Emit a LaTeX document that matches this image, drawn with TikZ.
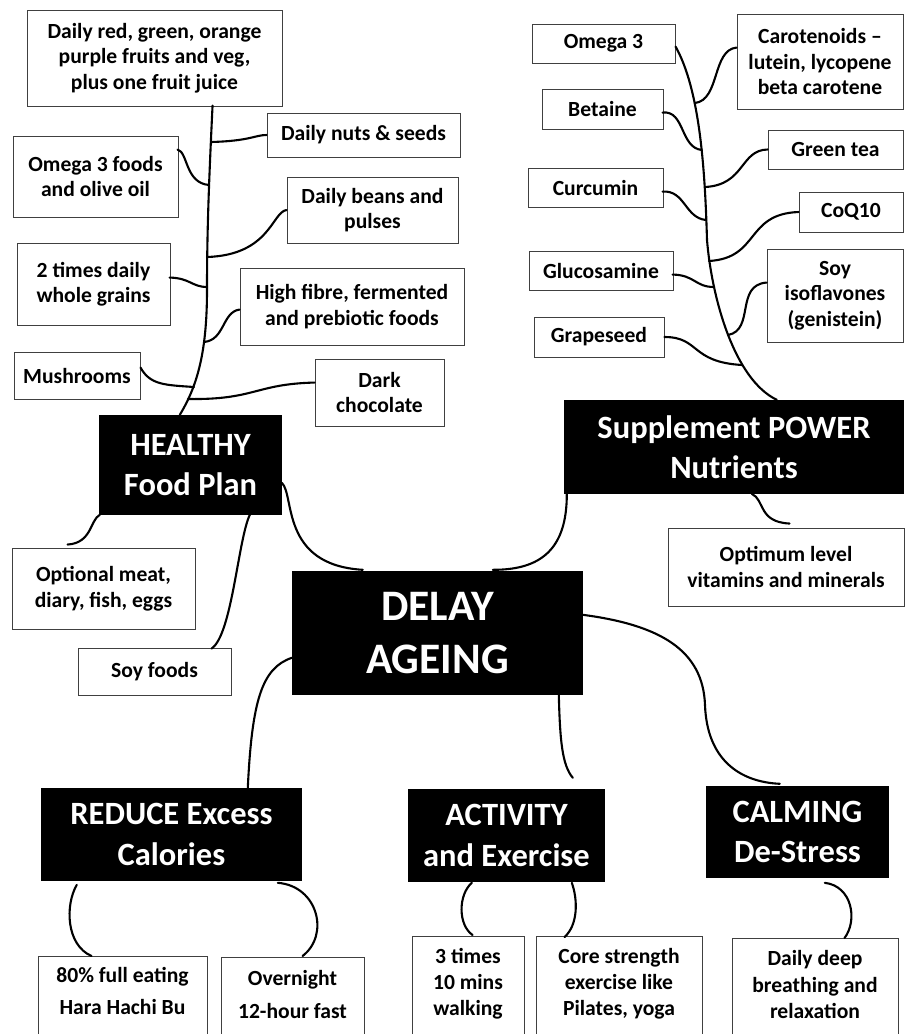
\documentclass[tikz,border=0pt]{standalone}
\usepackage{fontspec}
\setmainfont{Carlito}
\usetikzlibrary{calc}
\tikzset{
  sbox/.style={draw=black!75, line width=0.9pt, fill=white, align=center,
    font=\bfseries\fontsize{21.6}{25.5}\selectfont, inner sep=1pt},
  hbox/.style={fill=black, text=white, align=center,
    font=\bfseries\fontsize{32.5}{40.5}\selectfont, inner sep=0pt},
  dbox/.style={fill=black, text=white, align=center,
    font=\bfseries\fontsize{43.5}{53}\selectfont, inner sep=0pt},
  lowbox/.style={sbox, anchor=north, text depth=90pt, inner xsep=1pt},
  conn/.style={line width=2.1pt, black, line cap=round},
}
\newcommand\mkbox[7]{\node[#1, minimum width={#5pt-#3pt}, minimum height={#6pt-#4pt}] (#2) at ({(#3+#5)/2},{(#4+#6)/2}) {#7};}
\begin{document}
\begin{tikzpicture}[x=1pt,y=-1pt]
\useasboundingbox (0,0) rectangle (905,1034);
\fill[white] (0,0) rectangle (905,1034);
\clip (0,0) rectangle (905,1034);

% ---------- left food branch ----------
\mkbox{sbox}{red}{27}{10}{282}{106}{Daily red, green, orange\\purple fruits and veg,\\plus one fruit juice}
\mkbox{sbox}{nuts}{267}{113}{460}{157}{Daily nuts \& seeds}
\mkbox{sbox}{omf}{13}{136}{178}{217}{Omega 3 foods\\and olive oil}
\mkbox{sbox}{beans}{287}{177}{458}{243}{Daily beans and\\pulses}
\mkbox{sbox}{grains}{17}{243}{170}{325}{2 times daily\\whole grains}
\mkbox{sbox}{fibre}{240}{268}{464}{345}{High fibre, fermented\\and prebiotic foods}
\mkbox{sbox}{mush}{14}{352}{140}{399}{Mushrooms}
\mkbox{sbox}{choc}{315}{359}{444}{426}{Dark\\chocolate}
\mkbox{hbox}{healthy}{99}{415}{282}{515}{HEALTHY\\Food Plan}
\mkbox{sbox}{meat}{12}{548}{195}{629}{Optional meat,\\diary, fish, eggs}
\mkbox{sbox}{soyf}{78}{648}{231}{695}{Soy foods}

% ---------- centre ----------
\mkbox{dbox}{delay}{292}{571}{583}{695}{DELAY\\AGEING}

% ---------- supplements ----------
\mkbox{hbox}{supp}{564}{400}{904}{494}{Supplement POWER\\Nutrients}
\mkbox{sbox}{optim}{668}{528}{904}{606}{Optimum level\\vitamins and minerals}
\mkbox{sbox}{om3}{532}{24}{675}{63}{Omega 3}
\mkbox{sbox}{carot}{737}{14}{903}{109}{Carotenoids --\\lutein, lycopene\\beta carotene}
\mkbox{sbox}{bet}{542}{89}{663}{129}{Betaine}
\mkbox{sbox}{gtea}{768}{130}{903}{169}{Green tea}
\mkbox{sbox}{curc}{528}{168}{663}{207}{Curcumin}
\mkbox{sbox}{coq}{799}{192}{903}{232}{CoQ10}
\mkbox{sbox}{gluc}{529}{251}{673}{290}{Glucosamine}
\mkbox{sbox}{soyi}{767}{249}{903}{342}{Soy\\isoflavones\\(genistein)}
\mkbox{sbox}{grape}{534}{317}{664}{357}{Grapeseed}

% ---------- bottom ----------
\mkbox{hbox}{reduce}{41}{788}{302}{881}{REDUCE Excess\\Calories}
\mkbox{hbox}{act}{408}{789}{605}{882}{ACTIVITY\\and Exercise}
\mkbox{hbox}{calm}{706}{786}{889}{878}{CALMING\\De-Stress}

\node[lowbox, minimum width=169pt, inner ysep=11pt, font=\bfseries\fontsize{21.6}{32}\selectfont] (eat) at (122.5,956) {80\% full eating\\Hara Hachi Bu};
\node[lowbox, minimum width=143pt, inner ysep=13pt, font=\bfseries\fontsize{21.6}{33}\selectfont] (over) at (292.5,957) {Overnight\\12-hour fast};
\node[lowbox, minimum width=112pt, inner ysep=12pt, font=\bfseries\fontsize{21.6}{26}\selectfont] (walk) at (468,936) {3 times\\10 mins\\walking};
\node[lowbox, minimum width=166pt, inner ysep=12pt, font=\bfseries\fontsize{21.6}{26}\selectfont] (core) at (619,936) {Core strength\\exercise like\\Pilates, yoga};
\node[lowbox, minimum width=166pt, inner ysep=12pt, font=\bfseries\fontsize{21.6}{26.5}\selectfont] (breathe) at (815,938) {Daily deep\\breathing and\\relaxation};

% ---------- trunk junctions ----------
\coordinate (Jnuts) at (211,142);
\coordinate (Jom) at (209,185);
\coordinate (Jbeans) at (207,257);
\coordinate (Jgrains) at (207,287);
\coordinate (Jfibre) at (204,342);
\coordinate (Jmush) at (194,387);
\coordinate (Jchoc) at (188,399);
\coordinate (Jcarot) at (695,103);
\coordinate (Jbet) at (702,150);
\coordinate (Jgtea) at (705,187);
\coordinate (Jcurc) at (706,220);
\coordinate (Jcoq) at (709,261);
\coordinate (Jgluc) at (714,287);
\coordinate (Jsoy) at (728,335);
\coordinate (Jgrape) at (742,365);

% ---------- left trunk and branches ----------
\draw[conn] ($(red.north west)+(186,96)$) .. controls (209,180) and (207,230) .. (207,290)
  .. controls (207,350) and (198,385) .. ($(healthy.north west)+(81,0)$);
\draw[conn] (Jnuts) .. controls (250,141) and (255,135) .. (nuts.west);
\draw[conn] ($(omf.north west)+(165,14)$) .. controls (188,152) and (185,183) .. (Jom);
\draw[conn] (Jbeans) .. controls (270,255) and (272,212) .. (beans.west);
\draw[conn] ($(grains.north west)+(153,35)$) .. controls (190,278) and (192,287) .. (Jgrains);
\draw[conn] (Jfibre) .. controls (225,340) and (222,312) .. ($(fibre.north west)+(0,42)$);
\draw[conn] ($(mush.north west)+(127,16)$) .. controls (150,385) and (165,385) .. (Jmush);
\draw[conn] (Jchoc) .. controls (255,400) and (255,384) .. ($(choc.north west)+(0,24)$);
\draw[conn] ($(healthy.north west)+(1,100)$) .. controls (90,520) and (92,543) .. ($(meat.north west)+(56,-3)$);
\draw[conn] ($(healthy.north west)+(151,100)$) .. controls (238,540) and (232,635) .. ($(soyf.north west)+(134,1)$);
\draw[conn] ($(healthy.north west)+(183,68)$) .. controls (295,495) and (280,565) .. ($(delay.north west)+(71,-1)$);

% ---------- right trunk and branches ----------
\draw[conn] ($(om3.north west)+(144,23)$) .. controls (700,90) and (705,170) .. (707,240)
  .. controls (712,300) and (735,380) .. ($(supp.north west)+(213,0)$);
\draw[conn] (Jcarot) .. controls (720,100) and (712,50) .. ($(carot.north west)+(0,34)$);
\draw[conn] ($(bet.north west)+(121,24)$) .. controls (685,110) and (680,148) .. (Jbet);
\draw[conn] (Jgtea) .. controls (745,185) and (740,150) .. (gtea.west);
\draw[conn] ($(curc.north west)+(135,24)$) .. controls (685,190) and (685,218) .. (Jcurc);
\draw[conn] (Jcoq) .. controls (760,258) and (745,214) .. (coq.west);
\draw[conn] ($(gluc.north west)+(144,24)$) .. controls (695,275) and (695,287) .. (Jgluc);
\draw[conn] (Jsoy) .. controls (755,330) and (735,285) .. ($(soyi.north west)+(0,34)$);
\draw[conn] (grape.east) .. controls (700,337) and (690,362) .. (Jgrape);
\draw[conn] ($(supp.north west)+(3,94)$) .. controls (567,550) and (540,570) .. ($(delay.north west)+(201,-1)$);
\draw[conn] ($(supp.north west)+(188,94)$) .. controls (765,500) and (758,522) .. ($(optim.north west)+(122,-4)$);

% ---------- centre to bottom ----------
\draw[conn] ($(delay.north west)+(0,87)$) .. controls (262,668) and (252,700) .. ($(reduce.north west)+(207,0)$);
\draw[conn] ($(delay.north west)+(267,124)$) .. controls (560,740) and (562,765) .. ($(act.north west)+(165,-11)$);
\draw[conn] ($(delay.north west)+(291,44)$) .. controls (660,625) and (703,650) .. (705,705)
  .. controls (707,760) and (740,782) .. ($(calm.north west)+(74,-2)$);
\draw[conn] ($(reduce.north west)+(36,97)$) .. controls (65,905) and (66,945) .. ($(eat.north west)+(54,0)$);
\draw[conn] ($(reduce.north west)+(237,95)$) .. controls (318,886) and (330,935) .. ($(over.north west)+(82,-1)$);
\draw[conn] ($(act.north west)+(64,94)$) .. controls (458,895) and (458,925) .. ($(walk.north west)+(61,-1)$);
\draw[conn] ($(act.north west)+(164,94)$) .. controls (578,900) and (578,925) .. ($(core.north west)+(29,1)$);
\draw[conn] ($(calm.north west)+(119,97)$) .. controls (852,886) and (858,920) .. ($(breathe.north west)+(113,0)$);
\end{tikzpicture}
\end{document}
